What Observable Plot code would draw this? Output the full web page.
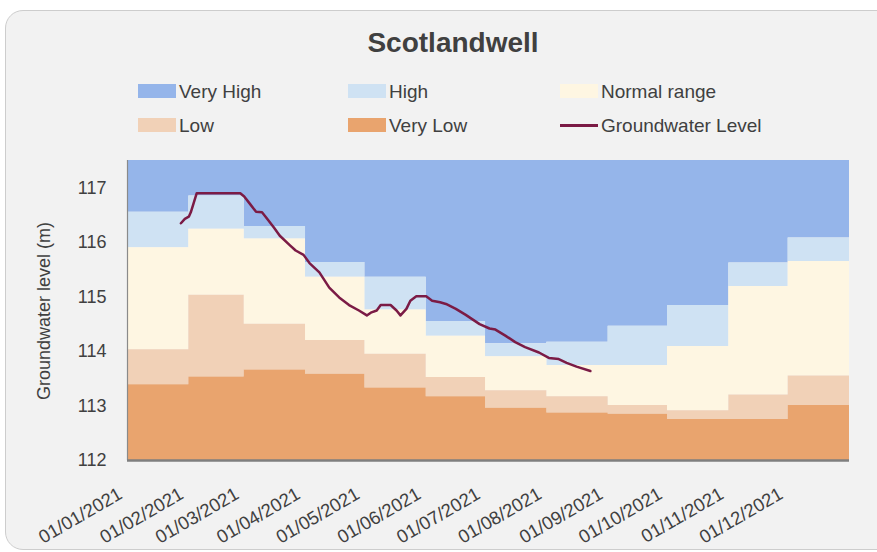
<!DOCTYPE html>
<html>
<head>
<meta charset="utf-8">
<script src="https://cdn.jsdelivr.net/npm/d3@7"></script>
<script src="https://cdn.jsdelivr.net/npm/@observablehq/plot@0.6"></script>
<style>
  html, body { margin: 0; padding: 0; background: #ffffff; }
  body { width: 877px; height: 552px; overflow: hidden; position: relative;
         font-family: "Liberation Sans", Arial, sans-serif; color: #404040; }
  #panel { position: absolute; left: 5px; top: 10px; width: 900px; height: 538px;
           background: #f2f2f2; border: 1.5px solid #cdcdcd; border-radius: 18px; }
  #title { position: absolute; left: 0; top: 29px; width: 906px; text-align: center;
           font-size: 28px; line-height: 28px; font-weight: bold; color: #404040; }
  .leg { position: absolute; font-size: 19px; line-height: 19px; color: #404040; white-space: nowrap; }
  .sw { position: absolute; width: 38px; height: 14px; }
  #ylab { position: absolute; left: 44px; top: 311px; font-size: 18px; line-height: 18px;
          color: #404040; white-space: nowrap; transform: translate(-50%, -50%) rotate(-90deg); }
  #chart { position: absolute; left: 0; top: 150px; }
</style>
</head>
<body>
<div id="panel"></div>
<div id="title">Scotlandwell</div>
<div id="legend"></div>
<div id="ylab">Groundwater level (m)</div>
<div id="chart"></div>
<script>
// ---- data ----
const monthStarts = ["2021-01-01","2021-02-01","2021-03-01","2021-04-01","2021-05-01","2021-06-01",
                     "2021-07-01","2021-08-01","2021-09-01","2021-10-01","2021-11-01","2021-12-01"];
const axisEnd = "2022-01-01";
const yDomain = [112, 117.5];
const yTicks = [112, 113, 114, 115, 116, 117];

// band boundaries per month (m)
const veryHighLower = [116.55,116.85,116.29,115.63,115.36,114.55,114.14,114.17,114.46,114.84,115.62,116.08];
const highLower     = [115.90,116.24,116.06,115.36,114.76,114.28,113.90,113.74,113.74,114.09,115.19,115.65];
const normalLower   = [114.03,115.03,114.50,114.20,113.95,113.52,113.28,113.17,113.01,112.91,113.20,113.55];
const lowLower      = [113.39,113.53,113.66,113.58,113.33,113.17,112.96,112.87,112.85,112.75,112.75,113.01];

const levelDates = ["2021-01-28","2021-01-30","2021-02-01","2021-02-02","2021-02-05","2021-02-27",
  "2021-03-01","2021-03-04","2021-03-07","2021-03-10","2021-03-12","2021-03-16","2021-03-19","2021-03-24",
  "2021-03-27","2021-03-31","2021-04-03","2021-04-08","2021-04-13","2021-04-18","2021-04-23","2021-04-28",
  "2021-05-02","2021-05-04","2021-05-07","2021-05-09","2021-05-14","2021-05-17","2021-05-19","2021-05-22",
  "2021-05-24","2021-05-27","2021-06-01","2021-06-04","2021-06-08","2021-06-11","2021-06-16","2021-06-21",
  "2021-06-28","2021-07-03","2021-07-06","2021-07-11","2021-07-16","2021-07-21","2021-07-28","2021-08-02",
  "2021-08-07","2021-08-11","2021-08-16","2021-08-23"];
const levelValues = [116.35,116.43,116.47,116.55,116.90,116.90,
  116.84,116.70,116.56,116.55,116.46,116.27,116.12,115.95,
  115.85,115.77,115.62,115.45,115.17,114.99,114.85,114.75,
  114.66,114.71,114.75,114.85,114.85,114.75,114.66,114.78,
  114.93,115.01,115.01,114.93,114.90,114.87,114.78,114.67,
  114.50,114.42,114.40,114.29,114.17,114.08,113.98,113.88,
  113.86,113.79,113.72,113.64];

const seriesNames = ["Very High","High","Normal range","Low","Very Low","Groundwater Level"];
const seriesColors = ["#95b5ea","#cfe2f3","#fef6e2","#f1d1b7","#e9a46e","#7b1b45"];

// ---- build tables ----
const parse = d3.utcParse("%Y-%m-%d");
const xs = monthStarts.map(parse).concat([parse(axisEnd)]);
const ext = a => a.concat([a[a.length - 1]]);
const bands = [
  {name: "Very High", lo: ext(veryHighLower), hi: ext(veryHighLower).map(() => yDomain[1])},
  {name: "High", lo: ext(highLower), hi: ext(veryHighLower)},
  {name: "Normal range", lo: ext(normalLower), hi: ext(highLower)},
  {name: "Low", lo: ext(lowLower), hi: ext(normalLower)},
  {name: "Very Low", lo: ext(lowLower).map(() => yDomain[0]), hi: ext(lowLower)}
];
const bandRows = bands.flatMap(b => xs.map((x, i) => ({band: b.name, x, y1: b.lo[i], y2: b.hi[i]})));
const levelRows = levelDates.map((d, i) => ({x: parse(d), y: levelValues[i]}));

// ---- legend ----
const legend = document.getElementById("legend");
const legX = [138, 348, 560];
const legY = [84, 118];
seriesNames.forEach((name, i) => {
  const col = i % 3, row = Math.floor(i / 3);
  const sw = document.createElement("div");
  sw.className = "sw";
  sw.style.left = legX[col] + "px";
  if (name === "Groundwater Level") {
    sw.style.top = (legY[row] + 6) + "px";
    sw.style.height = "3px";
  } else {
    sw.style.top = legY[row] + "px";
  }
  sw.style.background = seriesColors[i];
  legend.appendChild(sw);
  const t = document.createElement("div");
  t.className = "leg";
  t.textContent = name;
  t.style.left = (legX[col] + 41) + "px";
  t.style.top = (legY[row] - 2) + "px";
  legend.appendChild(t);
});

// ---- chart ----
const chart = Plot.plot({
  width: 877,
  height: 402,
  marginTop: 10,
  marginBottom: 92,
  marginLeft: 127,
  marginRight: 28,
  style: {background: "transparent", fontSize: "18px", fontFamily: "'Liberation Sans', Arial, sans-serif", color: "#404040", overflow: "visible"},
  x: {type: "utc", domain: [xs[0], xs[xs.length - 1]]},
  y: {domain: yDomain},
  color: {domain: seriesNames.slice(0, 5), range: seriesColors.slice(0, 5)},
  marks: [
    Plot.areaY(bandRows, {x: "x", y1: "y1", y2: "y2", z: "band", fill: "band", curve: "step-after"}),
    Plot.line(levelRows, {x: "x", y: "y", stroke: seriesColors[5], strokeWidth: 2.5, curve: "linear"}),
    Plot.ruleX([xs[0]], {stroke: "#8a8a8a", strokeWidth: 1.2}),
    Plot.ruleY([yDomain[0]], {stroke: "#7f7f7f", strokeWidth: 2.5}),
    Plot.axisY({ticks: yTicks, tickFormat: d => String(d), tickSize: 0, tickPadding: 21, label: null, fill: "#404040"}),
    Plot.axisX({ticks: monthStarts.map(parse), tickFormat: d3.utcFormat("%d/%m/%Y"), tickSize: 0,
                tickPadding: 0, tickRotate: -30, textAnchor: "end", lineAnchor: "middle",
                fontSize: 18.5, dx: -7, dy: 32, label: null, fill: "#404040"})
  ]
});
document.getElementById("chart").appendChild(chart);
</script>
</body>
</html>
